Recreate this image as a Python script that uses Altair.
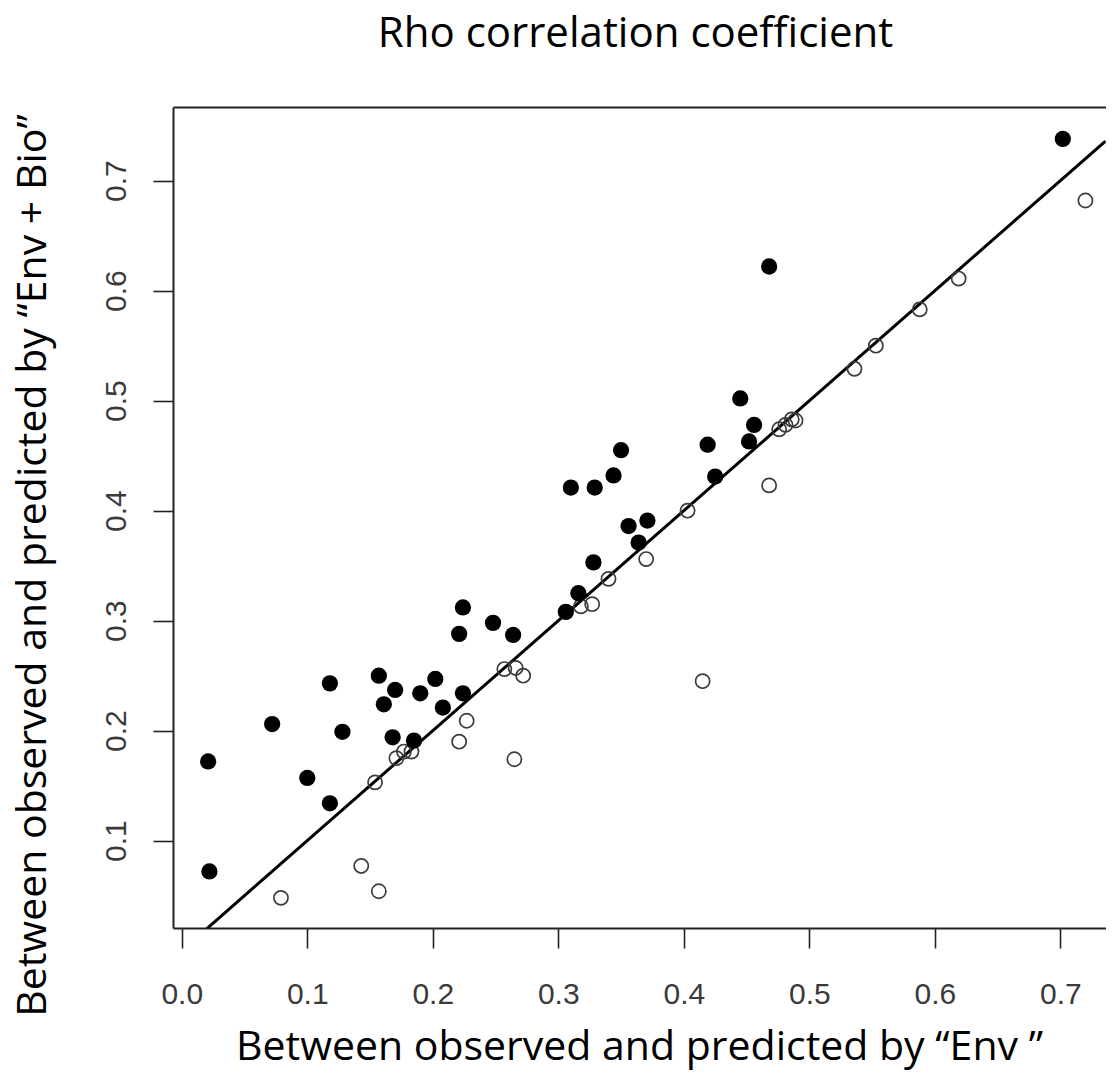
import altair as alt
import pandas as pd

# Filled circles (x: rho with "Env", y: rho with "Env + Bio")
filled_x = [0.021, 0.022, 0.072, 0.118, 0.100, 0.118, 0.128, 0.157, 0.170, 0.161,
            0.168, 0.190, 0.202, 0.208, 0.224, 0.185, 0.224, 0.221, 0.248, 0.264,
            0.306, 0.316, 0.328, 0.310, 0.329, 0.344, 0.350, 0.356, 0.371, 0.364,
            0.419, 0.425, 0.445, 0.456, 0.452, 0.468, 0.702]
filled_y = [0.172, 0.072, 0.206, 0.243, 0.157, 0.134, 0.199, 0.250, 0.237, 0.224,
            0.194, 0.234, 0.247, 0.221, 0.234, 0.191, 0.312, 0.288, 0.298, 0.287,
            0.308, 0.325, 0.353, 0.421, 0.421, 0.432, 0.455, 0.386, 0.391, 0.371,
            0.460, 0.431, 0.502, 0.478, 0.463, 0.622, 0.738]

# Open circles
open_x = [0.079, 0.143, 0.157, 0.154, 0.171, 0.177, 0.183, 0.221, 0.227, 0.257,
          0.266, 0.272, 0.265, 0.318, 0.327, 0.340, 0.370, 0.403, 0.415, 0.468,
          0.476, 0.481, 0.486, 0.489, 0.536, 0.553, 0.588, 0.619, 0.720]
open_y = [0.048, 0.077, 0.054, 0.153, 0.175, 0.181, 0.181, 0.190, 0.209, 0.256,
          0.257, 0.250, 0.174, 0.313, 0.315, 0.338, 0.356, 0.400, 0.245, 0.423,
          0.474, 0.478, 0.483, 0.482, 0.529, 0.550, 0.583, 0.611, 0.682]

# 1:1 reference line (y = x), endpoints inside the plotted ranges
ref_x = [0.02, 0.736]
ref_y = [0.02, 0.736]

x_ticks = [0.0, 0.1, 0.2, 0.3, 0.4, 0.5, 0.6, 0.7]
y_ticks = [0.1, 0.2, 0.3, 0.4, 0.5, 0.6, 0.7]

x_domain = [-0.007, 0.7364]
y_domain = [0.0206, 0.767]

title_text = "Rho correlation coefficient"
x_title = "Between observed and predicted by \u201cEnv \u201d"
y_title = "Between observed and predicted by \u201cEnv + Bio\u201d"

df_filled = pd.DataFrame({"x": filled_x, "y": filled_y})
df_open = pd.DataFrame({"x": open_x, "y": open_y})
df_ref = pd.DataFrame({"x": ref_x, "y": ref_y})

W, H = 933, 821

x_scale = alt.Scale(domain=x_domain, nice=False, zero=False)
y_scale = alt.Scale(domain=y_domain, nice=False, zero=False)

label_font = "Liberation Sans"
title_font = "Open Sans"
axis_col = "#222222"
label_col = "#3a3a3a"

y_axis = alt.Axis(
    values=y_ticks, format=".1f", grid=False,
    domain=True, domainColor=axis_col, domainWidth=2,
    ticks=True, tickSize=20, tickColor=axis_col, tickWidth=1.6,
    labelFont=label_font, labelFontSize=30, labelColor=label_col,
    labelAngle=270, labelAlign="center", labelBaseline="alphabetic",
    labelPadding=28,
    title=y_title, titleFont=title_font, titleFontSize=41,
    titleFontWeight="normal", titleColor="black",
    titleAngle=270, titleAlign="center", titleBaseline="alphabetic",
    titleX=-128, titleY=458,
)

x_axis_bottom = alt.Axis(
    orient="bottom", values=x_ticks, format=".1f", grid=False,
    domain=True, domainColor=axis_col, domainWidth=2,
    ticks=True, tickSize=20, tickColor=axis_col, tickWidth=1.6,
    labelFont=label_font, labelFontSize=30, labelColor=label_col,
    labelAngle=0, labelAlign="center", labelBaseline="alphabetic",
    labelPadding=55,
    title=x_title, titleFont=title_font, titleFontSize=41,
    titleFontWeight="normal", titleColor="black",
    titleAlign="center", titleBaseline="alphabetic",
    titleX=466, titleY=131,
)

# Top border of the box, carrying the chart heading as its title
x_axis_top = alt.Axis(
    orient="top", grid=False, domain=True, domainColor=axis_col, domainWidth=2,
    ticks=False, labels=False,
    title=title_text, titleFont=title_font, titleFontSize=42,
    titleFontWeight="normal", titleColor="black",
    titleAlign="center", titleBaseline="alphabetic", titleAngle=0,
    titleX=462, titleY=-61,
)

ref_line = alt.Chart(df_ref).mark_line(color="black", strokeWidth=3, clip=True).encode(
    x=alt.X("x:Q", scale=x_scale, axis=x_axis_top),
    y=alt.Y("y:Q", scale=y_scale, axis=y_axis),
)

open_pts = alt.Chart(df_open).mark_point(
    shape="circle", filled=False, size=200, strokeWidth=1.7,
    color="#3c3c3c", opacity=1,
).encode(
    x=alt.X("x:Q", scale=x_scale, axis=None),
    y=alt.Y("y:Q", scale=y_scale, axis=y_axis),
)

filled_pts = alt.Chart(df_filled).mark_circle(
    size=265, color="black", opacity=1,
).encode(
    x=alt.X("x:Q", scale=x_scale, axis=x_axis_bottom),
    y=alt.Y("y:Q", scale=y_scale, axis=y_axis),
)

chart = (
    alt.layer(ref_line, open_pts, filled_pts)
    .resolve_axis(x="independent")
    .properties(
        width=W, height=H,
        autosize=alt.AutoSizeParams(type="none"),
        padding={"left": 165, "top": 99, "right": 0, "bottom": 143},
        background="white",
    )
    .configure_view(stroke=None)
)

chart.save("out.html", embed_options={"renderer": "svg", "actions": False})
